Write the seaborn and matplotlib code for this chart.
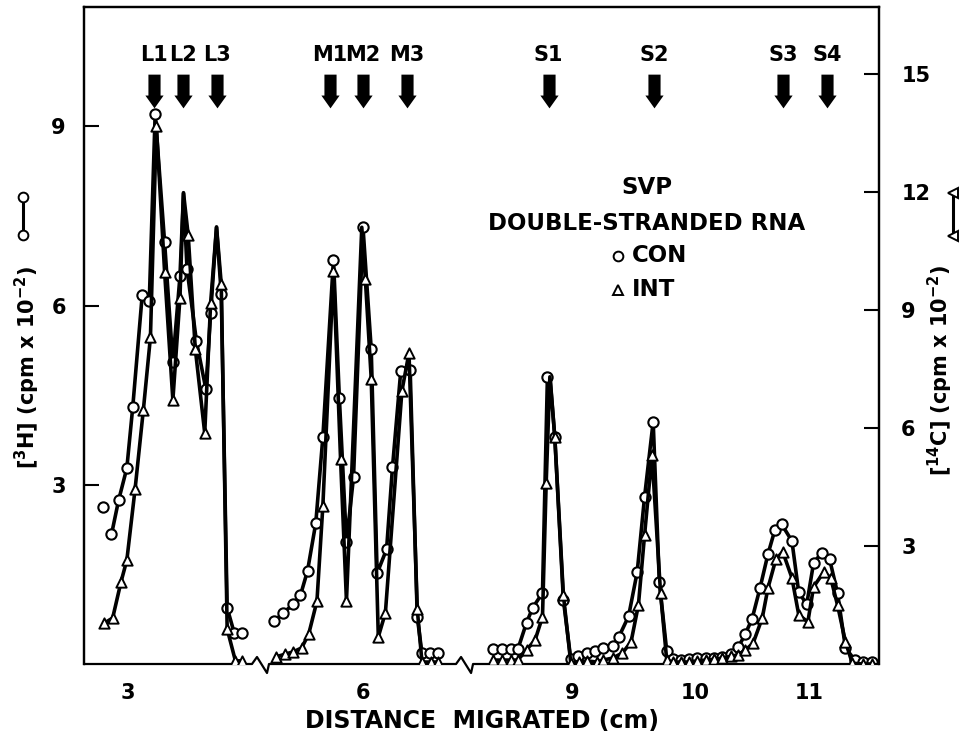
import numpy as np
import pandas as pd
import matplotlib
matplotlib.use("Agg")
import matplotlib.pyplot as plt
from matplotlib.path import Path
from matplotlib.lines import Line2D
import seaborn as sns

# ------------------------------------------------------------------ data
# CON : [3H] counts (left axis, open circles)
CON_X = [2.86, 2.92, 2.99, 3.04, 3.12, 3.18, 3.23, 3.31, 3.38, 3.44, 3.50, 3.58, 3.66, 3.70, 3.79, 3.84, 3.90, 3.97,
         5.25, 5.32, 5.41, 5.47, 5.53, 5.60, 5.66, 5.75, 5.80, 5.86, 5.92, 6.00, 6.07, 6.12, 6.20, 6.25, 6.32, 6.40, 6.46, 6.50, 6.57, 6.64,
         8.36, 8.43, 8.50, 8.56, 8.63, 8.68, 8.76, 8.80, 8.86, 8.93, 8.99, 9.05, 9.12, 9.19, 9.25, 9.33, 9.38, 9.46, 9.53, 9.59, 9.66,
         9.71, 9.77, 9.82, 9.89, 9.95, 10.02, 10.10, 10.17, 10.24, 10.32, 10.38, 10.44, 10.50, 10.57, 10.64, 10.70, 10.76, 10.85,
         10.91, 10.98, 11.04, 11.11, 11.18, 11.25, 11.32, 11.40, 11.47, 11.55]
CON_Y = [2.17, 2.74, 3.28, 4.30, 6.17, 6.07, 9.21, 7.06, 5.05, 6.49, 6.61, 5.40, 4.60, 5.87, 6.20, 0.94, 0.52, 0.52,
         0.72, 0.85, 1.00, 1.15, 1.56, 2.36, 3.80, 6.77, 4.45, 2.04, 3.13, 7.32, 5.27, 1.52, 1.92, 3.29, 4.90, 4.93, 0.79, 0.18, 0.18, 0.18,
         0.25, 0.25, 0.25, 0.25, 0.69, 0.94, 1.19, 4.80, 3.80, 1.07, 0.08, 0.13, 0.18, 0.22, 0.27, 0.30, 0.45, 0.80, 1.54, 2.80, 4.06,
         1.37, 0.22, 0.08, 0.07, 0.08, 0.10, 0.10, 0.10, 0.12, 0.17, 0.28, 0.50, 0.75, 1.27, 1.84, 2.24, 2.34, 2.06,
         1.20, 1.00, 1.69, 1.86, 1.76, 1.19, 0.27, 0.07, 0.03, 0.03]
# unconnected CON point
CON_LOOSE_X = [2.79]
CON_LOOSE_Y = [2.63]
# apex of the hand-drawn CON curve (no symbol)
CON_PEAK_X = [3.47, 3.75, 8.82]
CON_PEAK_Y = [7.88, 7.31, 4.85]

# INT : [14C] counts (right axis, open triangles)
INT_X = [2.80, 2.87, 2.94, 2.99, 3.06, 3.13, 3.19, 3.24, 3.31, 3.38, 3.44, 3.51, 3.57, 3.65, 3.70, 3.79, 3.84, 3.91, 3.97,
         5.26, 5.34, 5.41, 5.48, 5.54, 5.61, 5.66, 5.75, 5.81, 5.86, 6.02, 6.07, 6.13, 6.19, 6.33, 6.39, 6.46, 6.50, 6.58, 6.64,
         8.36, 8.43, 8.50, 8.56, 8.63, 8.70, 8.76, 8.79, 8.86, 8.93, 8.99, 9.06, 9.12, 9.20, 9.25, 9.33, 9.41, 9.48, 9.54, 9.59, 9.65,
         9.72, 9.77, 9.82, 9.89, 9.95, 10.02, 10.10, 10.17, 10.24, 10.32, 10.38, 10.44, 10.51, 10.59, 10.64, 10.71, 10.77, 10.85,
         10.91, 10.99, 11.04, 11.13, 11.19, 11.25, 11.32, 11.38, 11.47, 11.55]
INT_Y = [1.04, 1.17, 2.08, 2.64, 4.45, 6.46, 8.31, 13.68, 9.97, 6.71, 9.31, 10.90, 8.01, 5.87, 9.18, 9.66, 0.89, 0.08, 0.08,
         0.18, 0.25, 0.31, 0.41, 0.76, 1.60, 4.02, 9.99, 5.21, 1.60, 9.79, 7.25, 0.69, 1.30, 6.94, 7.91, 1.40, 0.05, 0.05, 0.05,
         0.10, 0.10, 0.10, 0.10, 0.36, 0.61, 1.20, 4.60, 5.77, 1.75, 0.03, 0.05, 0.08, 0.05, 0.10, 0.15, 0.28, 0.56, 1.50, 3.28, 5.30,
         1.80, 0.10, 0.05, 0.05, 0.05, 0.08, 0.10, 0.12, 0.15, 0.20, 0.23, 0.35, 0.53, 1.17, 1.93, 2.67, 2.85, 2.19,
         1.25, 1.07, 1.96, 2.34, 2.19, 1.50, 0.56, 0.02, 0.00, 0.00]
INT_PEAK_X = [3.47, 3.75, 5.99, 8.82]
INT_PEAK_Y = [11.98, 11.11, 11.10, 7.30]

# band markers
BAND_NAMES = ["L1", "L2", "L3", "M1", "M2", "M3", "S1", "S2", "S3", "S4"]
BAND_CM = [3.22, 3.47, 3.75, 5.72, 6.00, 6.37, 8.81, 9.67, 10.77, 11.16]

X_TICKS = [3, 6, 9, 10, 11]
LEFT_TICKS = [3, 6, 9]
RIGHT_TICKS = [3, 6, 9, 12, 15]
SEGMENT_EDGES = [4.5, 7.5]
BREAKS_CM = [4.53, 7.50]

# broken x axis: piecewise-linear scale (cm -> drawing units)
CM_ANCHORS = [2.0, 4.076, 5.212, 6.797, 8.195, 9.0, 10.0, 11.0, 12.0]
U_ANCHORS = [10, 255, 270, 457, 473, 572, 695, 809, 923]


def fwd(x):
    return np.interp(x, CM_ANCHORS, U_ANCHORS)


def inv(u):
    return np.interp(u, U_ANCHORS, CM_ANCHORS)


# ------------------------------------------------------------------ frames
def line_frame(xs, ys, px, py):
    d = pd.DataFrame({"cm": list(xs) + list(px), "val": list(ys) + list(py)})
    d["seg"] = np.digitize(d["cm"], SEGMENT_EDGES)
    return d.sort_values("cm").reset_index(drop=True)


con_pts = pd.DataFrame({"cm": CON_X + CON_LOOSE_X, "val": CON_Y + CON_LOOSE_Y})
int_pts = pd.DataFrame({"cm": INT_X, "val": INT_Y})
con_line = line_frame(CON_X, CON_Y, CON_PEAK_X, CON_PEAK_Y)
int_line = line_frame(INT_X, INT_Y, INT_PEAK_X, INT_PEAK_Y)

# ------------------------------------------------------------------ style
sns.set_theme(style="white")
plt.rcParams["font.family"] = ["DejaVu Sans"]
plt.rcParams["font.weight"] = "bold"
plt.rcParams["mathtext.default"] = "bf"
plt.rcParams["text.color"] = "black"
plt.rcParams["axes.labelcolor"] = "black"
plt.rcParams["xtick.color"] = "black"
plt.rcParams["ytick.color"] = "black"

W, H = 978, 738
fig = plt.figure(figsize=(W / 100, H / 100), dpi=100)
L, R, T, B = 84, 879, 7, 664
ax = fig.add_axes([L / W, 1 - B / H, (R - L) / W, (B - T) / H])
ax.set_xscale("function", functions=(fwd, inv))
ax2 = ax.twinx()

LW = 2.6
sns.lineplot(data=con_line, x="cm", y="val", units="seg", estimator=None, sort=True,
             color="black", lw=LW, ax=ax, legend=False)
sns.scatterplot(data=con_pts, x="cm", y="val", marker="o", s=55, color="white",
                edgecolor="black", linewidth=1.5, ax=ax, zorder=4, legend=False)
sns.lineplot(data=int_line, x="cm", y="val", units="seg", estimator=None, sort=True,
             color="black", lw=LW, ax=ax2, legend=False)
sns.scatterplot(data=int_pts, x="cm", y="val", marker="^", s=55, color="white",
                edgecolor="black", linewidth=1.4, ax=ax2, zorder=4, legend=False)

ax.set_xlim(2.627, 11.614)
ax.set_ylim(0, 11)
ax2.set_ylim(0, 16.7)

ax.set_xticks(X_TICKS)
ax.set_xticklabels([str(t) for t in X_TICKS])
ax.set_yticks(LEFT_TICKS)
ax.set_yticklabels([str(t) for t in LEFT_TICKS])
ax2.set_yticks(RIGHT_TICKS)
ax2.set_yticklabels([str(t) for t in RIGHT_TICKS])
ax.minorticks_off()
ax.set_xlabel("")
ax.set_ylabel("")
ax2.set_ylabel("")

for a in (ax, ax2):
    for s in a.spines.values():
        s.set_linewidth(1.6)
        s.set_color("black")
    a.spines["bottom"].set_visible(False)
ax.tick_params(axis="both", direction="in", length=11, width=1.5, labelsize=15, colors="black")
ax.tick_params(axis="x", pad=14)
ax.tick_params(axis="y", pad=13)
ax2.tick_params(axis="y", direction="in", length=11, width=1.5, labelsize=15, pad=16, colors="black")
for lab in ax.get_xticklabels() + ax.get_yticklabels() + ax2.get_yticklabels():
    lab.set_fontweight("bold")
    lab.set_color("black")

# broken bottom axis with zig-zags
xt = ax.get_xaxis_transform()
zz_du = [-9, -4, 6, 8]
zz_dy = [0, 7, -9, 0]
bx = [2.627]
by = [0.0]
for bc in BREAKS_CM:
    u0 = float(fwd(bc))
    bx += [float(inv(u0 + d)) for d in zz_du]
    by += [d / (B - T) for d in zz_dy]
bx.append(11.614)
by.append(0.0)
ax.plot(bx, by, transform=xt, color="black", lw=1.6, clip_on=False, zorder=5)

# band arrows
arrow_path = Path([(-0.18, 0.5), (0.18, 0.5), (0.18, -0.12), (0.27, -0.12), (0.0, -0.5),
                   (-0.27, -0.12), (-0.18, -0.12), (-0.18, 0.5)],
                  [Path.MOVETO] + [Path.LINETO] * 6 + [Path.CLOSEPOLY])
ax.scatter(BAND_CM, [0.872] * len(BAND_CM), marker=arrow_path, s=590, color="black",
           transform=xt, clip_on=False, zorder=6, linewidths=0)
for name, xc in zip(BAND_NAMES, BAND_CM):
    ax.text(xc, 0.927, name, transform=xt, ha="center", va="center", fontsize=15,
            fontweight="bold", color="black")

# annotation block
def axpt(px, py):
    return ((px - L) / (R - L), (B - py) / (B - T))

for txt, (px, py), ha in [("SVP", (647, 188), "center"),
                          ("DOUBLE-STRANDED RNA", (647, 224), "center"),
                          ("CON", (632, 256), "left"),
                          ("INT", (632, 290), "left")]:
    ax.text(*axpt(px, py), txt, transform=ax.transAxes, ha=ha, va="center",
            fontsize=16.5, fontweight="bold", color="black")
ax.plot(*axpt(618, 256), marker="o", ms=7, mfc="white", mec="black", mew=1.4,
        transform=ax.transAxes, clip_on=False)
ax.plot(*axpt(618, 290), marker="^", ms=7, mfc="white", mec="black", mew=1.4,
        transform=ax.transAxes, clip_on=False)

# axis titles
fig.text(482 / W, 1 - 721 / H, "DISTANCE  MIGRATED (cm)", ha="center", va="center",
         fontsize=17, fontweight="bold", color="black")
fig.text(27 / W, 1 - 367 / H, r"[$^{3}$H] (cpm x 10$^{-2}$)", rotation=90, ha="center",
         va="center", fontsize=15, fontweight="bold", color="black")
fig.text(940 / W, 1 - 370 / H, r"[$^{14}$C] (cpm x 10$^{-2}$)", rotation=90, ha="center",
         va="center", fontsize=15, fontweight="bold", color="black")
fig.add_artist(Line2D([23 / W, 23 / W], [1 - 197 / H, 1 - 235 / H], transform=fig.transFigure,
                      color="black", lw=2.2, marker="o", ms=7, mfc="white", mec="black", mew=1.4))
fig.add_artist(Line2D([953 / W, 953 / W], [1 - 193 / H, 1 - 236 / H], transform=fig.transFigure,
                      color="black", lw=2.2, marker="<", ms=7, mfc="white", mec="black", mew=1.4))

fig.savefig("out.png", dpi=100, facecolor="white")
